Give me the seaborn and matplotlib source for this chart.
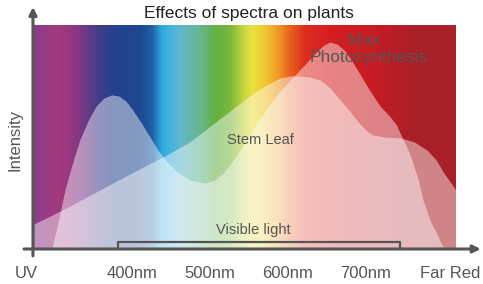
import matplotlib

matplotlib.use("Agg")
import matplotlib.pyplot as plt
import numpy as np
import seaborn as sns
from matplotlib.colors import LinearSegmentedColormap

# --- data (wavelength in nm, intensity 0-100) ---
curve_a_nm = [297, 303, 308, 314, 323, 333, 344, 354, 364, 374, 383, 392, 401,
              412, 423, 433, 445, 458, 474, 494, 506, 517, 528, 539, 550, 560,
              571, 581, 592, 603, 615, 628, 639, 646, 654, 663, 673, 682, 692,
              705, 718, 731, 739, 746, 754, 760, 767, 773, 782, 791, 796, 801]
curve_a_val = [0, 8.5, 16.6, 26.5, 37.7, 48.9, 57.8, 64.1, 67.7, 69.1, 68.6,
               66.4, 62.3, 56.5, 50.2, 44.4, 39.0, 34.5, 30.9, 29.6, 30.9, 34.1,
               39.0, 44.4, 50.7, 56.5, 61.9, 66.8, 71.7, 75.8, 80.3, 85.2, 89.2,
               91.5, 92.8, 91.9, 88.8, 84.3, 78.5, 70.9, 64.1, 59.2, 55.6, 50.2,
               44.4, 38.6, 30.9, 22.0, 13.0, 6.7, 2.7, 0]

curve_b_nm = [274, 308, 359, 397, 440, 474, 494, 517, 539, 560, 577, 590, 603,
              613, 628, 641, 654, 667, 680, 692, 701, 709, 724, 744, 762, 778,
              790, 799, 808, 815]
curve_b_val = [11.2, 17.0, 26.5, 33.6, 41.3, 48.0, 53.4, 59.6, 65.5, 70.9, 74.4,
               76.7, 77.6, 77.6, 77.1, 75.8, 72.2, 66.8, 61.4, 56.1, 52.9, 51.1,
               50.2, 49.8, 48.0, 44.4, 39.9, 34.5, 30.0, 26.5]

spectrum_nm = [274, 304, 320, 340, 359, 378, 410, 426, 436, 445, 462, 487, 506,
               526, 542, 554, 571, 587, 603, 622, 654, 718, 756, 815]
spectrum_colors = ["#8e3c8c", "#a23a7c", "#963682", "#6c3a88", "#3c3e8a",
                   "#22428c", "#1e4890", "#2262aa", "#2ea4da", "#3cb2e0",
                   "#62b8cc", "#68b68c", "#62b044", "#7ab83c", "#c4d43e",
                   "#eae23e", "#f2c632", "#f09a26", "#e8601e", "#de2c20",
                   "#d61e20", "#c41c24", "#ac2028", "#a82028"]

tick_nm = [265, 400, 500, 600, 700, 808]
tick_labels = ["UV", "400nm", "500nm", "600nm", "700nm", "Far Red"]

visible_range = [382, 744]

sns.set_theme(style="white")
plt.rcParams["font.family"] = ["Liberation Sans", "DejaVu Sans"]

GREY = "#555555"

fig = plt.figure(figsize=(4.83, 2.84), dpi=100)
ax = fig.add_axes([24 / 483, 26 / 284, 457 / 483, 253 / 284])

# spectrum background
lo, hi = spectrum_nm[0], spectrum_nm[-1]
stops = [((w - lo) / (hi - lo), c) for w, c in zip(spectrum_nm, spectrum_colors)]
cmap = LinearSegmentedColormap.from_list("spectrum", stops)
grid = np.linspace(lo, hi, 800)[None, :]
ax.imshow(grid, extent=[lo, hi, 0, 100], aspect="auto", cmap=cmap,
          vmin=lo, vmax=hi, interpolation="bilinear")

# translucent intensity curves
ax.fill_between(curve_a_nm, 0, curve_a_val, color="white", alpha=0.45, lw=0)
ax.fill_between(curve_b_nm, 0, curve_b_val, color="white", alpha=0.45, lw=0)

# visible light bracket
sns.lineplot(x=[visible_range[0], visible_range[0], visible_range[1], visible_range[1]],
             y=[0, 3.1, 3.1, 0], sort=False, estimator=None, color=GREY, lw=1.6, ax=ax)

ax.set_xlim(261.5, 847.4)
ax.set_ylim(-4.04, 109.4)

# axis arrows
arrow = dict(arrowstyle="-|>", color=GREY, lw=2.2, mutation_scale=11,
             shrinkA=0, shrinkB=0)
ax.annotate("", xy=(273, 108.5), xytext=(273, -3.1), arrowprops=arrow)
ax.annotate("", xy=(847, 0), xytext=(261.5, 0), arrowprops=arrow)

ax.set_xticks(tick_nm, tick_labels)
ax.set_yticks([])
ax.tick_params(axis="x", length=0, pad=6, labelsize=12, labelcolor=GREY)
sns.despine(ax=ax, left=True, bottom=True)

ax.text(550, 105.8, "Effects of spectra on plants", ha="center", va="center",
        fontsize=12.5, color="#222222")
ax.text(250, 48.9, "Intensity", rotation=90, ha="center", va="center",
        fontsize=12, color=GREY)
ax.text(564, 48.9, "Stem Leaf", ha="center", va="center", fontsize=10.5,
        color=GREY)
ax.text(690, 93.7, "\u00b7 Max", ha="center", va="center", fontsize=12.5,
        color=GREY)
ax.text(703, 85.7, "Photosynthesis", ha="center", va="center", fontsize=12.5,
        color=GREY)
ax.text(556, 8.5, "Visible light", ha="center", va="center", fontsize=10.5,
        color=GREY)

fig.savefig("out.png", dpi=100)
